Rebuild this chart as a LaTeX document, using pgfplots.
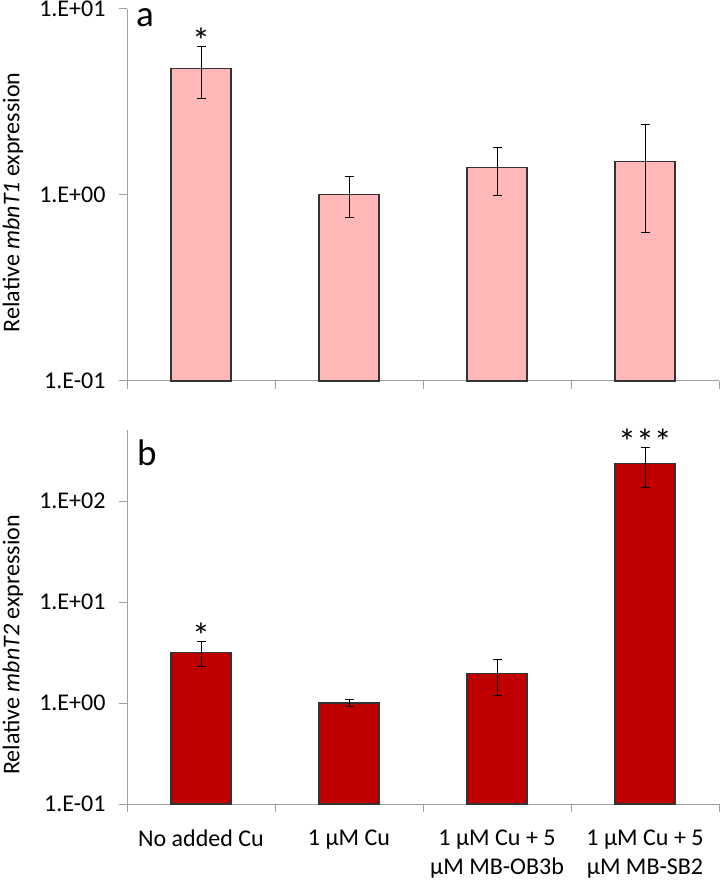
\documentclass[border=0pt]{standalone}
\usepackage{fontspec}
\setmainfont{Carlito}
\usepackage{pgfplots}
\pgfplotsset{compat=1.18}
\definecolor{pinkbar}{RGB}{255,183,183}
\definecolor{redbar}{RGB}{192,0,0}
\definecolor{axgray}{RGB}{160,160,160}
\newcommand{\fs}{\fontsize{24bp}{29.5bp}\selectfont}
\newcommand{\fl}{\fontsize{37bp}{42bp}\selectfont}
\newcommand{\fa}{\fontsize{36bp}{40bp}\selectfont}
\begin{document}
\begin{tikzpicture}
\path[use as bounding box] (0bp,0bp) rectangle (720bp,881bp);
\begin{axis}[at={(127bp,500bp)}, anchor=south west,
  scale only axis, width=592bp, height=372bp,
  xmin=0.5, xmax=4.5,
  ymode=log, log origin y=infty,
  axis x line*=bottom, axis y line*=left,
  axis line style={axgray, line width=1bp},
  major tick style={axgray, line width=1bp},
  major tick length=8bp, tick align=outside,
  yminorticks=false,
  xtick={0.5,1.5,2.5,3.5,4.5}, xticklabels={},
  tick label style={font=\fs, black},
  yticklabel style={xshift=-10bp},
  ybar, bar width=60bp, clip=false,
  ymin=0.1, ymax=10, ytick={0.1,1,10}, yticklabels={1.E-01,1.E+00,1.E+01},
  ylabel={Relative \textit{mbnT1} expression},
  every axis y label/.style={font=\fs, at={(axis description cs:-0.1926,0.48)},rotate=90,anchor=center}]
\addplot[fill=pinkbar, draw=black!80, line width=1.3bp,
  error bars/.cd, y dir=both, y explicit,
  error bar style={black, line width=0.8bp},
  error mark options={rotate=90, mark size=4.5bp, black, line width=0.8bp}]
 coordinates {(1,4.80) +- (0,1.48) (2,1.01) +- (0,0.25) (3,1.40) +- (0,0.40) (4,1.52) +- (0,0.89)};
\node[font=\fa, anchor=base, yshift=-6.5bp] at (axis cs:1,6.28) {*};
\node[font=\fl, anchor=base west, inner sep=0pt, xshift=9bp, yshift=-18bp] at (rel axis cs:0,1) {a};
\end{axis}
\begin{axis}[at={(127bp,77bp)}, anchor=south west,
  scale only axis, width=592bp, height=374bp,
  xmin=0.5, xmax=4.5,
  ymode=log, log origin y=infty,
  axis x line*=bottom, axis y line*=left,
  axis line style={axgray, line width=1bp},
  major tick style={axgray, line width=1bp},
  major tick length=8bp, tick align=outside,
  yminorticks=false,
  xtick={0.5,1.5,2.5,3.5,4.5},
  x tick label as interval,
  xticklabels={{No added Cu},{1 µM Cu},{1 µM Cu + 5\\µM MB-OB3b},{1 µM Cu + 5\\µM MB-SB2}},
  xticklabel style={align=center, yshift=-14bp},
  tick label style={font=\fs, black},
  yticklabel style={xshift=-10bp},
  ybar, bar width=60bp, clip=false,
  ymin=0.1, ymax=505, ytick={0.1,1,10,100}, yticklabels={1.E-01,1.E+00,1.E+01,1.E+02},
  ylabel={Relative \textit{mbnT2} expression},
  every axis y label/.style={font=\fs, at={(axis description cs:-0.1926,0.425)},rotate=90,anchor=center}]
\addplot[fill=redbar, draw=black!80, line width=1.3bp,
  error bars/.cd, y dir=both, y explicit,
  error bar style={black, line width=0.8bp},
  error mark options={rotate=90, mark size=4.5bp, black, line width=0.8bp}]
 coordinates {(1,3.18) +- (0,0.86) (2,1.00) +- (0,0.08) (3,1.95) +- (0,0.76) (4,236) +- (0,100)};
\node[font=\fa, anchor=base, yshift=-6.5bp] at (axis cs:1,4.05) {*};
\node[font=\fa, anchor=base, yshift=-6.5bp] at (axis cs:4,336) {***};
\node[font=\fl, anchor=base west, inner sep=0pt, xshift=10bp, yshift=-36bp] at (rel axis cs:0,1) {b};
\end{axis}
\end{tikzpicture}
\end{document}
